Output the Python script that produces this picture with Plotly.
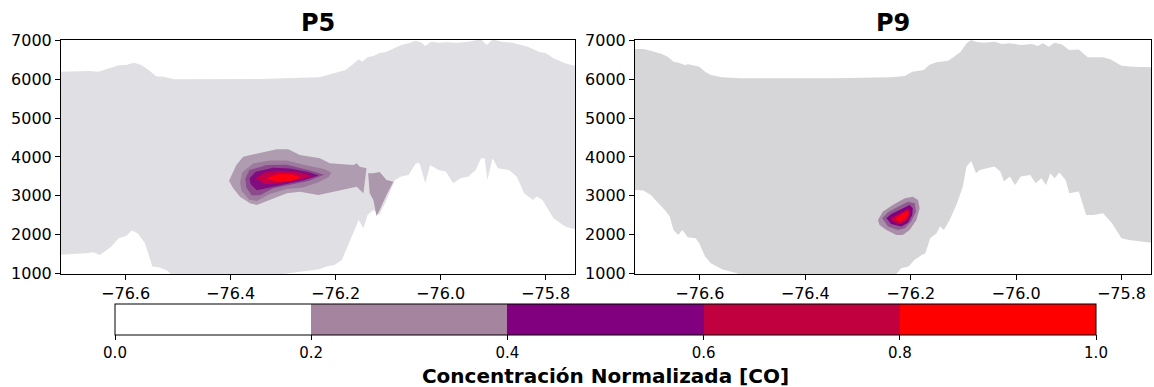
import plotly.graph_objects as go

# ---------------- P5 cross-section ----------------
# upper edge of the sampled domain (lon, altitude m)
p5_top_lon = [-76.724, -76.669, -76.652, -76.634, -76.613, -76.599, -76.584, -76.570, -76.556,
              -76.542, -76.528, -76.507, -76.344, -76.231, -76.202, -76.181, -76.167, -76.156,
              -76.149, -76.139, -76.128, -76.117, -76.103, -76.089, -76.075, -76.061, -76.047,
              -76.036, -76.029, -76.018, -76.004, -75.990, -75.969, -75.947, -75.930, -75.923,
              -75.912, -75.901, -75.884, -75.863, -75.834, -75.813, -75.799, -75.785, -75.763,
              -75.740]
p5_top_alt = [6200, 6217, 6200, 6270, 6364, 6372, 6432, 6372, 6243,
              6080, 6071, 6003, 6011, 6054, 6157, 6243, 6390, 6519,
              6459, 6570, 6604, 6673, 6716, 6802, 6888, 6931, 7000,
              6948, 6862, 6974, 6948, 6957, 6948, 6974, 7017, 7034,
              6888, 7034, 6974, 6948, 6845, 6716, 6673, 6544, 6415,
              6329]
# terrain (lower edge)
p5_bot_lon = [-76.724, -76.676, -76.662, -76.649, -76.637, -76.627, -76.613, -76.599, -76.588,
              -76.577, -76.563, -76.549, -76.535, -76.521, -76.507, -76.344, -76.231, -76.217,
              -76.202, -76.188, -76.178, -76.167, -76.156, -76.147, -76.139, -76.128, -76.117,
              -76.103, -76.087, -76.075, -76.061, -76.047, -76.040, -76.029, -76.020, -76.004,
              -75.990, -75.976, -75.962, -75.947, -75.933, -75.923, -75.916, -75.911, -75.901,
              -75.891, -75.870, -75.855, -75.841, -75.824, -75.817, -75.806, -75.785, -75.763,
              -75.740]
p5_bot_alt = [1471, 1514, 1540, 1471, 1583, 1686, 1901, 1961, 2099,
              2030, 1772, 1170, 1144, 1067, 900, 900, 1101, 1170,
              1213, 1342, 1643, 2030, 2374, 2159, 2503, 2632, 2503,
              2890, 3406, 3492, 3535, 3836, 3836, 3320, 3793, 3664,
              3621, 3320, 3449, 3492, 3664, 3965, 3965, 3406, 3965,
              3707, 3664, 3492, 3062, 2890, 2976, 2890, 2417, 2202,
              2116]

# concentration bands, outermost first: (lon, altitude) outlines
p5_band1a_lon = [-76.403, -76.389, -76.376, -76.344, -76.312, -76.290, -76.268, -76.230, -76.211,
                 -76.192, -76.166, -76.160, -76.154, -76.141, -76.144, -76.147, -76.160, -76.192,
                 -76.217, -76.233, -76.268, -76.293, -76.319, -76.350, -76.363, -76.382, -76.395]
p5_band1a_alt = [3388, 3793, 4007, 4110, 4198, 4198, 4051, 3966, 3837,
                 3819, 3793, 3837, 3749, 3708, 3362, 3063, 3233, 3148,
                 3063, 3019, 3104, 3063, 2934, 2761, 2805, 2975, 3192]
p5_band1b_lon = [-76.138, -76.128, -76.116, -76.103, -76.090, -76.103, -76.116, -76.122, -76.128, -76.135]
p5_band1b_alt = [3579, 3579, 3613, 3406, 3362, 3019, 2632, 2477, 2890, 3063]
p5_band2_lon = [-76.382, -76.378, -76.357, -76.325, -76.293, -76.255, -76.222, -76.208,
                -76.213, -76.234, -76.262, -76.293, -76.325, -76.350, -76.365, -76.379]
p5_band2_alt = [3340, 3600, 3830, 3910, 3910, 3780, 3690, 3590,
                3480, 3340, 3210, 3170, 3040, 2860, 2900, 3130]
p5_band3_lon = [-76.372, -76.364, -76.331, -76.293, -76.252, -76.222,
                -76.252, -76.287, -76.319, -76.344, -76.360, -76.370]
p5_band3_alt = [3440, 3660, 3790, 3800, 3660, 3540,
                3380, 3290, 3190, 3010, 3010, 3210]
p5_band4_lon = [-76.364, -76.352, -76.319, -76.287, -76.252, -76.232,
                -76.262, -76.300, -76.331, -76.350, -76.362]
p5_band4_alt = [3450, 3620, 3720, 3700, 3610, 3520,
                3390, 3290, 3200, 3140, 3300]
p5_band5_lon = [-76.352, -76.336, -76.306, -76.270, -76.244, -76.270, -76.306, -76.336]
p5_band5_alt = [3450, 3590, 3640, 3600, 3510, 3410, 3330, 3300]
p5_band6_lon = [-76.332, -76.310, -76.284, -76.266, -76.286, -76.314]
p5_band6_alt = [3450, 3560, 3550, 3470, 3380, 3370]

# ---------------- P9 cross-section ----------------
p9_top_lon = [-76.723, -76.707, -76.693, -76.672, -76.661, -76.650, -76.640, -76.629, -76.622,
              -76.608, -76.601, -76.590, -76.579, -76.558, -76.523, -76.346, -76.239, -76.211,
              -76.197, -76.175, -76.165, -76.151, -76.140, -76.129, -76.119, -76.105, -76.094,
              -76.085, -76.076, -76.062, -76.041, -76.027, -76.012, -75.991, -75.970, -75.959,
              -75.949, -75.938, -75.927, -75.913, -75.899, -75.881, -75.864, -75.835, -75.821,
              -75.800, -75.779, -75.738]
p9_top_alt = [6785, 6785, 6742, 6656, 6587, 6458, 6432, 6372, 6389,
              6355, 6329, 6200, 6114, 6054, 6028, 6028, 6054, 6089,
              6200, 6243, 6372, 6441, 6458, 6484, 6570, 6716, 6931,
              7017, 6974, 6948, 6974, 6914, 6931, 6888, 6914, 6862,
              6931, 6845, 6948, 6905, 6759, 6776, 6570, 6570, 6519,
              6355, 6329, 6312]
p9_bot_lon = [-76.723, -76.707, -76.693, -76.679, -76.664, -76.657, -76.650, -76.641, -76.633,
              -76.623, -76.608, -76.601, -76.590, -76.579, -76.558, -76.530, -76.516, -76.232,
              -76.218, -76.204, -76.193, -76.179, -76.172, -76.163, -76.151, -76.144, -76.137,
              -76.126, -76.112, -76.101, -76.094, -76.085, -76.076, -76.069, -76.055, -76.041,
              -76.030, -76.023, -76.012, -76.002, -75.991, -75.973, -75.963, -75.952, -75.943,
              -75.935, -75.927, -75.918, -75.906, -75.899, -75.881, -75.867, -75.853, -75.835,
              -75.818, -75.800, -75.786, -75.764, -75.738]
p9_bot_alt = [3148, 3131, 3019, 2804, 2589, 2460, 2116, 1987, 2116,
              1926, 1901, 1772, 1428, 1256, 1101, 998, 900, 900,
              1127, 1170, 1342, 1471, 1514, 1901, 2030, 2202, 2116,
              2374, 2804, 3234, 3750, 3896, 3578, 3664, 3707, 3750,
              3621, 3363, 3492, 3277, 3492, 3535, 3320, 3449, 3277,
              3578, 3449, 3595, 3406, 3062, 3105, 2503, 2503, 2546,
              2288, 1901, 1858, 1815, 1772]

p9_band1_lon = [-76.262, -76.253, -76.234, -76.211, -76.196, -76.186, -76.183,
                -76.189, -76.202, -76.215, -76.227, -76.246, -76.259]
p9_band1_alt = [2374, 2588, 2761, 2934, 2975, 2890, 2676,
                2374, 2116, 1987, 1987, 2116, 2245]
p9_band2_lon = [-76.254, -76.243, -76.224, -76.205, -76.192, -76.190,
                -76.199, -76.211, -76.224, -76.243]
p9_band2_alt = [2418, 2573, 2717, 2846, 2805, 2588,
                2330, 2160, 2116, 2201]
p9_band3_lon = [-76.246, -76.237, -76.218, -76.202, -76.196, -76.197, -76.205, -76.218, -76.237]
p9_band3_alt = [2418, 2529, 2650, 2761, 2676, 2503, 2304, 2201, 2271]
p9_band4_lon = [-76.237, -76.221, -76.203, -76.201, -76.208, -76.221, -76.234]
p9_band4_alt = [2418, 2547, 2676, 2547, 2356, 2263, 2330]
p9_band5_lon = [-76.229, -76.215, -76.205, -76.204, -76.211, -76.222]
p9_band5_alt = [2418, 2547, 2614, 2503, 2374, 2330]

# colour bar levels
cb_levels = [0.0, 0.2, 0.4, 0.6, 0.8, 1.0]
cb_colors = ["#ffffff", "#a4849f", "#800080", "#c0003f", "#ff0000"]

FONT = "DejaVu Sans"
W, H = 1154, 387

fig = go.Figure()


def band(lon, alt, color, xa, ya):
    fig.add_trace(go.Scatter(x=lon, y=alt, mode="lines", fill="toself", fillcolor=color,
                             line=dict(width=0), hoverinfo="skip", showlegend=False,
                             xaxis=xa, yaxis=ya))


def domain(top_lon, top_alt, bot_lon, bot_alt, color, xa, ya):
    band(top_lon + bot_lon[::-1], top_alt + bot_alt[::-1], color, xa, ya)


# P5
domain(p5_top_lon, p5_top_alt, p5_bot_lon, p5_bot_alt, "#e0dfe3", "x", "y")
band(p5_band1a_lon, p5_band1a_alt, "#b09cb0", "x", "y")
band(p5_band1b_lon, p5_band1b_alt, "#ac98ac", "x", "y")
band(p5_band2_lon, p5_band2_alt, "#9d7b9e", "x", "y")
band(p5_band3_lon, p5_band3_alt, "#8b4a8c", "x", "y")
band(p5_band4_lon, p5_band4_alt, "#800c80", "x", "y")
band(p5_band5_lon, p5_band5_alt, "#c4004a", "x", "y")
band(p5_band6_lon, p5_band6_alt, "#ff0010", "x", "y")

# P9
domain(p9_top_lon, p9_top_alt, p9_bot_lon, p9_bot_alt, "#d6d5d8", "x2", "y2")
band(p9_band1_lon, p9_band1_alt, "#a98ea9", "x2", "y2")
band(p9_band2_lon, p9_band2_alt, "#8e5b8f", "x2", "y2")
band(p9_band3_lon, p9_band3_alt, "#800080", "x2", "y2")
band(p9_band4_lon, p9_band4_alt, "#c4003f", "x2", "y2")
band(p9_band5_lon, p9_band5_alt, "#ff0012", "x2", "y2")

# discrete colour scale for the shared colour bar
scale = []
for i, c in enumerate(cb_colors):
    scale.append([cb_levels[i], c])
    scale.append([cb_levels[i + 1], c])

fig.add_trace(go.Scatter(
    x=[None], y=[None], mode="markers", showlegend=False, hoverinfo="skip",
    marker=dict(color=[0.5], cmin=0, cmax=1, colorscale=scale, showscale=True,
                colorbar=dict(orientation="h", x=605.5 / W, xanchor="center",
                              y=1 - 304 / H, yanchor="top",
                              len=981 / W, lenmode="fraction",
                              thickness=31, thicknessmode="pixels",
                              outlinewidth=1, outlinecolor="black",
                              xpad=0, ypad=0,
                              ticks="outside", ticklen=5, tickcolor="black",
                              tickvals=cb_levels, tickformat=".1f",
                              tickfont=dict(family=FONT, size=15, color="black"),
                              title=dict(text="<b>Concentración Normalizada [CO]</b>",
                                         side="bottom",
                                         font=dict(family=FONT, size=20, color="black")))),
    xaxis="x", yaxis="y"))

xr = [-76.723, -75.744]
yr = [978, 7018]
ydom = [1 - 274 / H, 1 - 40 / H]

axis_common = dict(showline=True, mirror=True, linecolor="black", linewidth=1,
                   ticks="outside", ticklen=5, tickcolor="black", showgrid=False,
                   zeroline=False, tickfont=dict(family=FONT, size=16, color="black"))

fig.update_layout(
    width=W, height=H,
    margin=dict(l=0, r=0, t=0, b=0, autoexpand=False),
    paper_bgcolor="white", plot_bgcolor="white",
    font=dict(family=FONT, color="black"),
    xaxis=dict(domain=[61 / W, 575 / W], range=xr, anchor="y",
               tickvals=[-76.6, -76.4, -76.2, -76.0, -75.8], tickformat=".1f", **axis_common),
    yaxis=dict(domain=ydom, range=yr, anchor="x",
               tickvals=[1000, 2000, 3000, 4000, 5000, 6000, 7000], tickformat="d", **axis_common),
    xaxis2=dict(domain=[635 / W, 1151 / W], range=xr, anchor="y2",
                tickvals=[-76.6, -76.4, -76.2, -76.0, -75.8], tickformat=".1f", **axis_common),
    yaxis2=dict(domain=ydom, range=yr, anchor="x2",
                tickvals=[1000, 2000, 3000, 4000, 5000, 6000, 7000], tickformat="d", **axis_common),
    annotations=[
        dict(text="<b>P5</b>", x=318 / W, y=1 - 23 / H, xref="paper", yref="paper",
             showarrow=False, xanchor="center", yanchor="middle",
             font=dict(family=FONT, size=24, color="black")),
        dict(text="<b>P9</b>", x=893 / W, y=1 - 23 / H, xref="paper", yref="paper",
             showarrow=False, xanchor="center", yanchor="middle",
             font=dict(family=FONT, size=24, color="black")),
    ],
)

fig.write_html("out.html")
